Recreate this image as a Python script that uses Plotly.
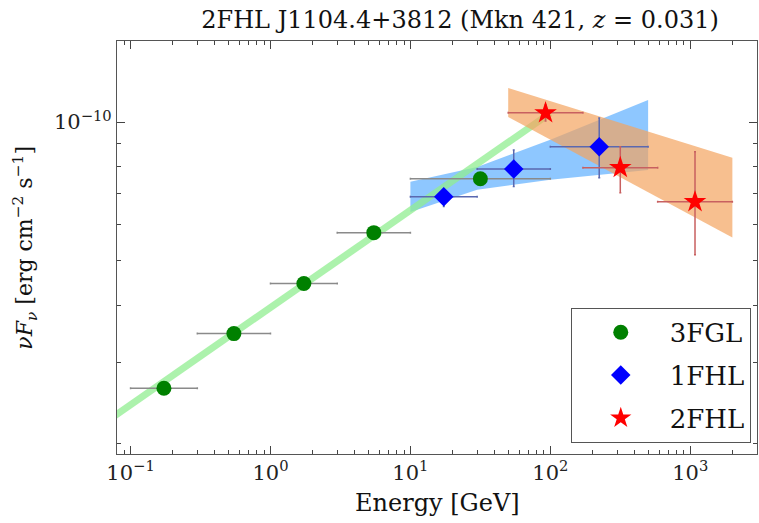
import numpy as np
import plotly.graph_objects as go

# ---- 3FGL band fluxes (nuFnu, erg cm^-2 s^-1) ----
fgl_emin = [0.1, 0.3, 1.0, 3.0, 10.0]
fgl_emax = [0.3, 1.0, 3.0, 10.0, 100.0]
fgl_flux = [2.64e-11, 3.47e-11, 4.46e-11, 5.75e-11, 7.53e-11]
fgl_flux_lo = [2.58e-11, 3.41e-11, 4.39e-11, 5.66e-11, 7.38e-11]
fgl_flux_hi = [2.70e-11, 3.53e-11, 4.53e-11, 5.84e-11, 7.68e-11]

# ---- 1FHL band fluxes ----
fhl1_emin = [10.0, 30.0, 100.0]
fhl1_emax = [30.0, 100.0, 500.0]
fhl1_flux = [6.88e-11, 7.91e-11, 8.84e-11]
fhl1_flux_lo = [6.55e-11, 7.24e-11, 7.57e-11]
fhl1_flux_hi = [7.13e-11, 8.70e-11, 1.021e-10]

# ---- 2FHL band fluxes ----
fhl2_emin = [50.0, 171.0, 585.0]
fhl2_emax = [171.0, 585.0, 2000.0]
fhl2_flux = [1.047e-10, 7.96e-11, 6.71e-11]
fhl2_flux_lo = [1.005e-10, 7.02e-11, 5.15e-11]
fhl2_flux_hi = [1.090e-10, 8.84e-11, 8.62e-11]

# ---- 3FGL power-law fit ----
fit3fgl_e = [0.05, 100.0]
fit3fgl_flux = [2.10e-11, 1.046e-10]

# ---- 1FHL butterfly ----
bt1_e = [10.0, 30.0, 100.0, 500.0]
bt1_hi = [7.42e-11, 7.99e-11, 9.15e-11, 1.117e-10]
bt1_lo = [6.38e-11, 7.13e-11, 7.49e-11, 7.87e-11]

# ---- 2FHL butterfly ----
bt2_e = [50.0, 2000.0]
bt2_hi = [1.186e-10, 8.36e-11]
bt2_lo = [1.026e-10, 5.61e-11]

x_ticks = [0.1, 1, 10, 100, 1000]
x_ticktext = ["10<sup>−1</sup>", "10<sup>0</sup>", "10<sup>1</sup>",
              "10<sup>2</sup>", "10<sup>3</sup>"]
y_ticks = [1e-10]
y_ticktext = ["10<sup>−10</sup>"]

FONT = "DejaVu Serif"


def band_errors(emin, emax, flux, lo, hi):
    emin, emax = np.array(emin), np.array(emax)
    flux, lo, hi = np.array(flux), np.array(lo), np.array(hi)
    ec = np.sqrt(emin * emax)
    return ec, ec - emin, emax - ec, flux - lo, hi - flux


fig = go.Figure()

# butterflies and fit line
fig.add_trace(go.Scatter(
    x=bt1_e + bt1_e[::-1], y=bt1_hi + bt1_lo[::-1], fill="toself",
    fillcolor="rgba(30,144,255,0.5)", line=dict(width=0), mode="lines",
    showlegend=False, hoverinfo="skip"))
fig.add_trace(go.Scatter(
    x=fit3fgl_e, y=fit3fgl_flux, mode="lines",
    line=dict(color="rgba(144,238,144,0.75)", width=7),
    showlegend=False, hoverinfo="skip"))
fig.add_trace(go.Scatter(
    x=bt2_e + bt2_e[::-1], y=bt2_hi + bt2_lo[::-1], fill="toself",
    fillcolor="rgba(244,164,96,0.7)", line=dict(width=0), mode="lines",
    showlegend=False, hoverinfo="skip"))

series = [
    ("3FGL", fgl_emin, fgl_emax, fgl_flux, fgl_flux_lo, fgl_flux_hi,
     "circle", 15, "#008000", "#8a8a8a"),
    ("1FHL", fhl1_emin, fhl1_emax, fhl1_flux, fhl1_flux_lo, fhl1_flux_hi,
     "diamond", 15, "#0000ff", "#5a68b0"),
    ("2FHL", fhl2_emin, fhl2_emax, fhl2_flux, fhl2_flux_lo, fhl2_flux_hi,
     "star", 17, "#ff0000", "#c86060"),
]
for name, emin, emax, flux, lo, hi, sym, size, col, ecol in series:
    ec, xm, xp, ym, yp = band_errors(emin, emax, flux, lo, hi)
    fig.add_trace(go.Scatter(
        x=ec, y=flux, mode="markers", name=name, legendgroup=name,
        marker=dict(symbol=sym, size=size, color=col, line=dict(width=0)),
        error_x=dict(type="data", symmetric=False, array=xp, arrayminus=xm,
                     color=ecol, thickness=1.5, width=1),
        error_y=dict(type="data", symmetric=False, array=yp, arrayminus=ym,
                     color=ecol, thickness=1.5, width=1),
    ))

x_minor = [m * 10.0 ** k for k in range(-2, 4) for m in range(2, 10)]
y_minor = [m * 10.0 ** k for k in (-11, -10) for m in range(2, 10)]

axis_common = dict(
    type="log", ticks="inside", ticklen=8, tickwidth=1, tickcolor="#444",
    showline=True, linecolor="#555", linewidth=1.2, mirror="allticks",
    showgrid=False, zeroline=False, tickmode="array",
    tickfont=dict(family=FONT, size=21, color="#222"),
)

fig.update_layout(
    width=759, height=523,
    margin=dict(l=117, r=2, t=41, b=69),
    paper_bgcolor="white", plot_bgcolor="white",
    title=dict(text="2FHL J1104.4+3812 (Mkn 421, <i>z</i> = 0.031)",
               x=0.536, xref="paper", xanchor="center",
               y=0.962, yanchor="middle",
               font=dict(family=FONT, size=24, color="#111")),
    xaxis=dict(range=[np.log10(0.08), np.log10(3000)],
               tickvals=x_ticks, ticktext=x_ticktext,
               minor=dict(tickmode="array", tickvals=x_minor, ticks="inside",
                          ticklen=4, tickcolor="#444", showgrid=False),
               **axis_common),
    yaxis=dict(range=[np.log10(1.9e-11), np.log10(1.5e-10)],
               tickvals=y_ticks, ticktext=y_ticktext,
               minor=dict(tickmode="array", tickvals=y_minor, ticks="inside",
                          ticklen=4, tickcolor="#444", showgrid=False),
               **axis_common),
    legend=dict(x=0.709, y=0.027, xanchor="left", yanchor="bottom",
                bordercolor="#555", borderwidth=1, bgcolor="white",
                font=dict(family=FONT, size=26, color="#111"),
                traceorder="grouped", tracegroupgap=6, itemwidth=88),
    annotations=[
        dict(text="Energy [GeV]", xref="paper", yref="paper", x=0.5, y=-0.118,
             xanchor="center", yanchor="middle", showarrow=False,
             font=dict(family=FONT, size=24, color="#111")),
        dict(text="<i>νF<sub>ν</sub></i> [erg cm<sup>−2</sup> s<sup>−1</sup>]",
             xref="paper", yref="paper", x=-0.145, y=0.5, textangle=-90,
             xanchor="center", yanchor="middle", showarrow=False,
             font=dict(family=FONT, size=22, color="#111")),
    ],
)

fig.write_html("out.html")
